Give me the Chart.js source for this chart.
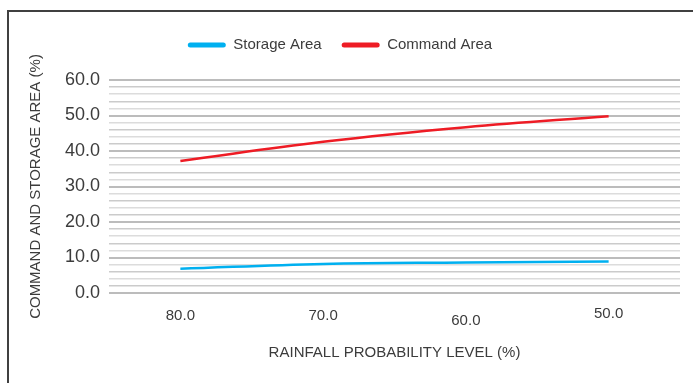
<!DOCTYPE html>
<html>
<head>
<meta charset="utf-8">
<script src="https://cdn.jsdelivr.net/npm/chart.js@4/dist/chart.umd.min.js"></script>
<style>
  html, body { margin: 0; padding: 0; background: #ffffff; }
  #wrap { position: relative; width: 693px; height: 383px; overflow: hidden; }
  #frame { position: absolute; left: 7px; top: 10px; width: 740px; height: 420px;
           border: 2px solid #404040; box-sizing: border-box; }
  #c { position: absolute; left: 0; top: 0; }
</style>
</head>
<body>
<div id="wrap">
  <div id="frame"></div>
  <canvas id="c" width="693" height="383"></canvas>
</div>
<script>
// Rainfall probability levels (%) along the x axis
const probabilityLevels = ['80.0', '70.0', '60.0', '50.0'];
// Storage area (%) at each probability level
const storageArea = [6.8, 8.2, 8.6, 8.9];
// Command area (%) at each probability level
const commandArea = [37.2, 42.6, 46.7, 49.8];
// y axis range and steps
const yMin = 0, yMax = 60, yMajorStep = 10, yMinorStep = 2;

const FONT = '"Liberation Sans", Arial, Helvetica, sans-serif';
const TEXT = '#3c3c3c';
const BLUE = '#00b0f0';
const RED = '#ee1c25';

// vertical nudges for the category labels, in px
const xLabelNudge = [0, 0, 4.5, -2.5];

// category labels drawn under the x scale, each with its own nudge
const xCategoryLabels = {
  id: 'xCategoryLabels',
  afterDraw(chart) {
    const sx = chart.scales.x;
    const ctx = chart.ctx;
    ctx.save();
    ctx.font = '15px ' + FONT;
    ctx.fillStyle = TEXT;
    ctx.textAlign = 'center';
    ctx.textBaseline = 'middle';
    sx.ticks.forEach((t, i) => {
      ctx.fillText(sx.getLabelForValue(t.value), sx.getPixelForTick(i),
                   chart.chartArea.bottom + 23 + xLabelNudge[i]);
    });
    ctx.restore();
  }
};

new Chart(document.getElementById('c'), {
  type: 'line',
  data: {
    labels: probabilityLevels,
    datasets: [
      { label: 'Storage Area', data: storageArea, borderColor: BLUE, backgroundColor: BLUE,
        borderWidth: 2.5, pointRadius: 0, tension: 0.4, fill: false },
      { label: 'Command Area', data: commandArea, borderColor: RED, backgroundColor: RED,
        borderWidth: 2.5, pointRadius: 0, tension: 0.4, fill: false }
    ]
  },
  options: {
    responsive: false,
    animation: false,
    devicePixelRatio: 1,
    layout: { padding: { top: 17.5, left: 0, right: 13, bottom: 0 } },
    plugins: {
      legend: {
        position: 'top',
        labels: {
          font: { family: FONT, size: 15 },
          color: TEXT,
          boxWidth: 38,
          boxHeight: 5,
          useBorderRadius: true,
          borderRadius: 2.5,
          padding: 20,
          generateLabels(chart) {
            return Chart.defaults.plugins.legend.labels.generateLabels(chart).map(l => {
              l.lineWidth = 0;
              l.fillStyle = l.strokeStyle;
              return l;
            });
          }
        }
      },
      // spacer between the legend and the plot
      title: { display: true, text: '', weight: 500, font: { size: 10 }, padding: { top: 0, bottom: 5.5 } },
      tooltip: { enabled: false }
    },
    scales: {
      x: {
        type: 'category',
        offset: true,
        grid: { display: false, drawTicks: false },
        border: { display: false },
        ticks: { display: false },
        title: {
          display: true,
          text: 'RAINFALL PROBABILITY LEVEL (%)',
          color: TEXT,
          font: { family: FONT, size: 15 },
          padding: { top: 0, bottom: 21 }
        },
        afterFit(scale) { scale.height = 90; }
      },
      y: {
        min: yMin,
        max: yMax,
        border: { display: false },
        grid: {
          drawTicks: false,
          color(ctx) {
            const v = ctx.tick.value;
            if (v % yMajorStep === 0) return '#bcbcbc';
            return (v % 4 === 2) ? '#cbcbcb' : '#dcdcdc';
          },
          lineWidth(ctx) {
            return ctx.tick.value % yMajorStep === 0 ? 2 : 1.5;
          }
        },
        ticks: {
          stepSize: yMinorStep,
          autoSkip: false,
          padding: 9,
          color: TEXT,
          font: { family: FONT, size: 18 },
          callback(v) { return v % yMajorStep === 0 ? Number(v).toFixed(1) : ''; }
        },
        title: {
          display: true,
          text: 'COMMAND AND STORAGE AREA (%)',
          color: TEXT,
          font: { family: FONT, size: 15 },
          padding: { top: 27, bottom: 0 }
        },
        afterFit(scale) { scale.width = 109; }
      }
    }
  },
  plugins: [xCategoryLabels]
});
</script>
</body>
</html>
